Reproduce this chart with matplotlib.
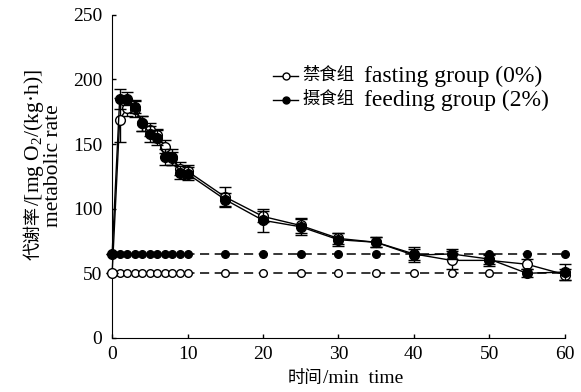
import matplotlib
matplotlib.use("Agg")
import matplotlib.pyplot as plt
from matplotlib.lines import Line2D

plt.rcParams['font.family'] = ['Liberation Serif', 'Noto Sans CJK SC', 'DejaVu Sans']
plt.rcParams['mathtext.fontset'] = 'custom'
plt.rcParams['mathtext.rm'] = 'Liberation Serif'
plt.rcParams['mathtext.it'] = 'Liberation Serif:italic'

# time points (min)
t = [0, 1, 2, 3, 4, 5, 6, 7, 8, 9, 10, 15, 20, 25, 30, 35, 40, 45, 50, 55, 60]
fasting = [50, 169, 178, 177, 166, 161, 157, 148, 139, 131, 129, 109, 94, 87, 77, 74, 65, 60, 60, 57, 49]
fasting_err = [0, 17, 6, 6, 6, 5, 5, 5, 5, 5, 5, 8, 4, 6, 4, 4, 5, 7, 4, 4, 4]
feeding = [65, 185, 185, 179, 166, 158, 155, 140, 140, 128, 127, 107, 91, 86, 76, 74, 64, 65, 61, 50, 51]
feeding_err = [0, 8, 5, 5, 6, 6, 6, 6, 6, 5, 5, 5, 9, 6, 5, 4, 5, 4, 4, 3, 6]

# resting (baseline) levels
fasting_base = [50] * len(t)
feeding_base = [65] * len(t)

xticks = [0, 10, 20, 30, 40, 50, 60]
yticks = [0, 50, 100, 150, 200, 250]

legend_cn = ['禁食组', '摄食组']
legend_en = ['fasting group (0%)', 'feeding group (2%)']

W, H = 581, 392
fig = plt.figure(figsize=(W / 100, H / 100), dpi=100)
ax = fig.add_axes([0.193, 0.138, 0.779, 0.824])


def fx(x):
    return x / W


def fy(y):
    return 1 - y / H


ms_base = 5.5
ms = 7
ax.plot(t, fasting_base, ls=(0, (6, 3.6)), color='black', lw=1.1, marker='o', ms=ms_base,
        mfc='white', mec='black', mew=1, clip_on=False, zorder=2)
ax.plot(t, feeding_base, ls=(0, (6, 3.6)), color='black', lw=1.1, marker='o', ms=ms_base,
        mfc='black', mec='black', mew=1, clip_on=False, zorder=2)

ax.errorbar(t, fasting, yerr=fasting_err, color='black', lw=1.0, marker='o', ms=ms,
            mfc='white', mec='black', mew=1, capsize=4, elinewidth=1, capthick=1,
            clip_on=False, zorder=3)
ax.errorbar(t, feeding, yerr=feeding_err, color='black', lw=1.0, marker='o', ms=ms,
            mfc='black', mec='black', mew=1, capsize=4, elinewidth=1, capthick=1,
            clip_on=False, zorder=4)

ax.set_xlim(0, 60)
ax.set_ylim(0, 250)
ax.set_xticks(xticks)
ax.set_yticks(yticks)
ax.spines['top'].set_visible(False)
ax.spines['right'].set_visible(False)
ax.tick_params(direction='in', length=3, width=1, labelsize=14, pad=6)
ax.tick_params(axis='y', pad=7)

# x label: Chinese part + English part
fig.text(fx(322), fy(383), '时间', fontsize=12.5, ha='right', va='baseline')
fig.text(fx(323), fy(383), '/min  time', fontsize=14, ha='left', va='baseline')

# y label, line 1 (rotated)
fig.text(fx(39), fy(206), '代谢率', fontsize=13, rotation=90, rotation_mode='anchor',
         ha='right', va='baseline')
fig.text(fx(39), fy(206), '/[mg O$_2$/(kg·h)]', fontsize=15.5, rotation=90,
         rotation_mode='anchor', ha='left', va='baseline')
# y label, line 2
fig.text(fx(58), fy(166), 'metabolic rate', fontsize=15.5, rotation=90,
         rotation_mode='anchor', ha='center', va='baseline')

# legend (drawn manually)
rows_y = [76, 100]
fills = ['white', 'black']
for ry, fc, cn, en in zip(rows_y, fills, legend_cn, legend_en):
    fig.add_artist(Line2D([fx(273), fx(298)], [fy(ry), fy(ry)], color='black', lw=1,
                          transform=fig.transFigure))
    fig.add_artist(Line2D([fx(285.5)], [fy(ry)], color='black', marker='o', ms=5,
                          mfc=fc, mec='black', mew=1, transform=fig.transFigure))
    fig.text(fx(302), fy(ry), cn, fontsize=12.5, ha='left', va='center')
    fig.text(fx(364), fy(ry), en, fontsize=17, ha='left', va='center')

fig.savefig('out.png', dpi=100)
